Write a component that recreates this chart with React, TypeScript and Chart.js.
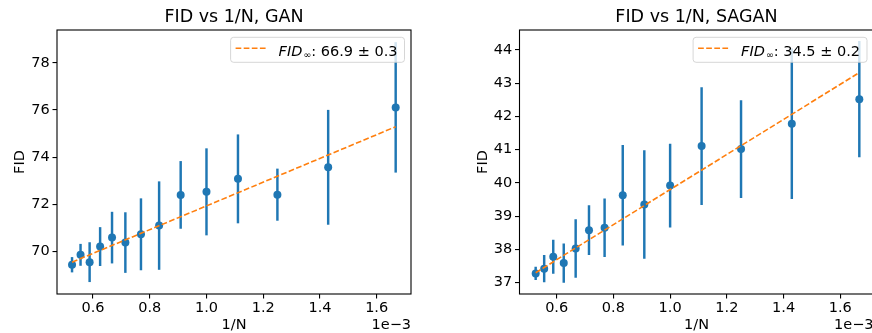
import React, { useEffect, useRef } from "react";
import { Chart, registerables } from "chart.js";

Chart.register(...registerables);

// ---- data (x in units of 1e-3) ----
const invN = [0.526, 0.556, 0.588, 0.625, 0.667, 0.714, 0.769, 0.833, 0.909, 1.0, 1.111, 1.25, 1.429, 1.667];
const xTicks = [0.6, 0.8, 1.0, 1.2, 1.4, 1.6];

const ganFID = [69.44, 69.86, 69.55, 70.21, 70.59, 70.38, 70.73, 71.1, 72.4, 72.53, 73.08, 72.41, 73.57, 76.11];
const ganErr = [0.31, 0.45, 0.83, 0.81, 1.08, 1.27, 1.51, 1.86, 1.42, 1.83, 1.87, 1.09, 2.42, 2.75];
const ganFitX = [0.526, 1.667];
const ganFitY = [69.55, 75.29];
const ganYTicks = [70, 72, 74, 76, 78];

const saganFID = [37.28, 37.42, 37.78, 37.59, 38.03, 38.58, 38.65, 39.63, 39.35, 39.92, 41.11, 41.02, 41.78, 42.52];
const saganErr = [0.19, 0.4, 0.5, 0.58, 0.87, 0.74, 0.87, 1.5, 1.62, 1.25, 1.76, 1.46, 2.25, 1.74];
const saganFitX = [0.526, 1.667];
const saganFitY = [37.3, 43.32];
const saganYTicks = [37, 38, 39, 40, 41, 42, 43, 44];

const titles = ["FID vs 1/N, GAN", "FID vs 1/N, SAGAN"];
const legendName = "FID";
const legendSub = "\u221E";
const legendValues = [": 66.9 \u00B1 0.3", ": 34.5 \u00B1 0.2"];
const xLabel = "1/N";
const yLabel = "FID";
const offsetText = "1e\u22123";

const BLUE = "#1f77b4";
const ORANGE = "#ff7f0e";
const FAMILY = '"DejaVu Sans", sans-serif';
const FS = 14.5;

type PanelProps = {
  left: number;
  title: string;
  values: number[];
  errors: number[];
  fitX: number[];
  fitY: number[];
  yTicks: number[];
  legendValue: string;
  xMin: number;
  xMax: number;
  yMin: number;
  yMax: number;
  yAxisWidth: number;
  yTitlePad: number;
  canvasWidth: number;
  rightPad: number;
};

function Panel(p: PanelProps) {
  const ref = useRef<HTMLCanvasElement>(null);

  useEffect(() => {
    const decor = {
      id: "decor",
      afterDatasetsDraw(chart: any) {
        const ctx = chart.ctx;
        const a = chart.chartArea;
        ctx.save();
        // frame (spines)
        ctx.strokeStyle = "#000";
        ctx.lineWidth = 1.1;
        ctx.strokeRect(a.left, a.top, a.right - a.left, a.bottom - a.top);

        // legend
        const fontMain = `${FS}px ${FAMILY}`;
        const fontIt = `italic ${FS}px ${FAMILY}`;
        const fontSub = `9.5px ${FAMILY}`;
        ctx.font = fontIt;
        const w1 = ctx.measureText(legendName).width;
        ctx.font = fontSub;
        const w2 = ctx.measureText(legendSub).width;
        ctx.font = fontMain;
        const w3 = ctx.measureText(p.legendValue).width;
        const textW = w1 + 1 + w2 + w3;
        const padL = 5, handle = 30, gap = 13, padR = 7;
        const boxW = padL + handle + gap + textW + padR;
        const boxH = 25;
        const right = a.right - 6.5;
        const left = right - boxW;
        const top = a.top + 7.3;
        ctx.beginPath();
        if ((ctx as any).roundRect) ctx.roundRect(left, top, boxW, boxH, 3);
        else ctx.rect(left, top, boxW, boxH);
        ctx.fillStyle = "rgba(255,255,255,0.8)";
        ctx.fill();
        ctx.strokeStyle = "rgba(204,204,204,0.8)";
        ctx.lineWidth = 1;
        ctx.stroke();

        ctx.setLineDash([5.7, 2.4]);
        ctx.strokeStyle = ORANGE;
        ctx.lineWidth = 1.6;
        ctx.beginPath();
        ctx.moveTo(left + padL, top + 11);
        ctx.lineTo(left + padL + handle, top + 11);
        ctx.stroke();
        ctx.setLineDash([]);

        let tx = left + padL + handle + gap;
        const by = top + 18.7;
        ctx.fillStyle = "#000";
        ctx.textAlign = "left";
        ctx.textBaseline = "alphabetic";
        ctx.font = fontIt;
        ctx.fillText(legendName, tx, by);
        tx += w1 + 1;
        ctx.font = fontSub;
        ctx.fillText(legendSub, tx, by + 1.5);
        tx += w2;
        ctx.font = fontMain;
        ctx.fillText(p.legendValue, tx, by);
        ctx.restore();
      },
      afterDraw(chart: any) {
        const ctx = chart.ctx;
        const a = chart.chartArea;
        ctx.save();
        ctx.font = `${FS}px ${FAMILY}`;
        ctx.fillStyle = "#000";
        ctx.textAlign = "right";
        ctx.textBaseline = "middle";
        ctx.fillText(offsetText, a.right, a.bottom + 31.7);
        ctx.restore();
      },
    };

    const chart = new Chart(ref.current as HTMLCanvasElement, {
      type: "scatter",
      data: {
        datasets: [
          {
            type: "scatter",
            label: "fit",
            data: p.fitX.map((x, i) => ({ x, y: p.fitY[i] })),
            showLine: true,
            borderColor: ORANGE,
            borderWidth: 1.6,
            borderDash: [5.7, 2.4],
            pointRadius: 0,
            fill: false,
            order: 0,
          } as any,
          {
            type: "scatter",
            label: "points",
            data: invN.map((x, i) => ({ x, y: p.values[i] })),
            pointRadius: 4,
            pointBackgroundColor: BLUE,
            pointBorderWidth: 0,
            backgroundColor: BLUE,
            borderColor: BLUE,
            order: 1,
          } as any,
          {
            type: "bar",
            label: "errors",
            data: invN.map((x, i) => ({ x, y: [p.values[i] - p.errors[i], p.values[i] + p.errors[i]] })),
            backgroundColor: BLUE,
            borderWidth: 0,
            barThickness: 1.8,
            grouped: false,
            order: 2,
          } as any,
        ],
      },
      options: {
        responsive: false,
        animation: false,
        devicePixelRatio: 1,
        layout: { padding: { left: 0, right: p.rightPad, top: 0, bottom: 0 } },
        plugins: {
          legend: { display: false },
          tooltip: { enabled: false },
          title: {
            display: true,
            text: p.title,
            fullSize: false,
            color: "#000",
            font: { family: FAMILY, size: 17.5, weight: "normal" },
            padding: { top: 7.4, bottom: 1.6 },
          },
        },
        scales: {
          x: {
            type: "linear",
            min: p.xMin,
            max: p.xMax,
            offset: false,
            afterFit: (s: any) => {
              s.height = 46;
            },
            afterBuildTicks: (s: any) => {
              s.ticks = xTicks.map((v) => ({ value: v }));
            },
            ticks: {
              callback: (v: any) => Number(v).toFixed(1),
              color: "#000",
              font: { family: FAMILY, size: FS },
              padding: 1.1,
              maxRotation: 0,
              autoSkip: false,
            },
            grid: {
              offset: false,
              drawOnChartArea: false,
              drawTicks: true,
              tickLength: 4.5,
              color: "#000",
              lineWidth: 1.1,
            },
            border: { display: false },
            title: {
              display: true,
              text: xLabel,
              color: "#000",
              font: { family: FAMILY, size: FS },
              padding: { top: 0, bottom: 5.6 },
            },
          },
          y: {
            type: "linear",
            min: p.yMin,
            max: p.yMax,
            beginAtZero: false,
            afterFit: (s: any) => {
              s.width = p.yAxisWidth;
            },
            afterBuildTicks: (s: any) => {
              s.ticks = p.yTicks.map((v) => ({ value: v }));
            },
            ticks: {
              callback: (v: any) => String(Math.round(Number(v))),
              color: "#000",
              font: { family: FAMILY, size: FS },
              padding: 2.8,
              autoSkip: false,
            },
            grid: {
              offset: false,
              drawOnChartArea: false,
              drawTicks: true,
              tickLength: 4.5,
              color: "#000",
              lineWidth: 1.1,
            },
            border: { display: false },
            title: {
              display: true,
              text: yLabel,
              color: "#000",
              font: { family: FAMILY, size: FS },
              padding: { top: p.yTitlePad, bottom: 0 },
            },
          },
        },
      } as any,
      plugins: [decor],
    });
    return () => chart.destroy();
  }, []);

  return (
    <div
      style={{
        position: "absolute",
        left: p.left,
        top: 0,
        width: 436,
        height: 333,
        overflow: "hidden",
        background: "#fff",
      }}
    >
      <canvas
        ref={ref}
        width={p.canvasWidth}
        height={340}
        style={{ display: "block", width: p.canvasWidth, height: 340 }}
      />
    </div>
  );
}

export default function App() {
  return (
    <div
      style={{
        position: "absolute",
        left: 0,
        top: 0,
        width: 872,
        height: 333,
        overflow: "hidden",
        background: "#fff",
      }}
    >
      <Panel
        left={0}
        title={titles[0]}
        values={ganFID}
        errors={ganErr}
        fitX={ganFitX}
        fitY={ganFitY}
        yTicks={ganYTicks}
        legendValue={legendValues[0]}
        xMin={0.473}
        xMax={1.721}
        yMin={68.2}
        yMax={79.39}
        yAxisWidth={57}
        yTitlePad={11.5}
        canvasWidth={436}
        rightPad={25}
      />
      <Panel
        left={436}
        title={titles[1]}
        values={saganFID}
        errors={saganErr}
        fitX={saganFitX}
        fitY={saganFitY}
        yTicks={saganYTicks}
        legendValue={legendValues[1]}
        xMin={0.469}
        xMax={1.717}
        yMin={36.66}
        yMax={44.6}
        yAxisWidth={83.5}
        yTitlePad={39}
        canvasWidth={446}
        rightPad={8.5}
      />
    </div>
  );
}
